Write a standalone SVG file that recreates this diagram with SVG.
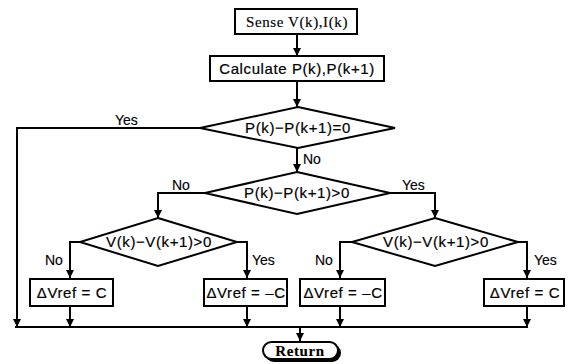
<svg xmlns="http://www.w3.org/2000/svg" width="569" height="364" viewBox="0 0 569 364">
<style>
.s{fill:#fff;stroke:#000;stroke-width:2}
.c{fill:none;stroke:#000;stroke-width:2}
.t{font-family:"Liberation Sans",Arial,sans-serif;font-size:15px;letter-spacing:0.6px;fill:#000;stroke:#000;stroke-width:0.2;text-anchor:middle}
.l{font-family:"Liberation Sans",Arial,sans-serif;font-size:14px;fill:#000;stroke:#000;stroke-width:0.15}
.sf{font-family:"Liberation Serif","Times New Roman",serif;font-size:15px;letter-spacing:0.6px;fill:#000;stroke:#000;stroke-width:0.15;text-anchor:middle}
</style>
<defs>
<marker id="a" viewBox="0 0 8 8" refX="8" refY="4" markerWidth="8" markerHeight="8" markerUnits="userSpaceOnUse" orient="auto">
<path d="M0,0 L8,4 L0,8 z" fill="#000"/>
</marker>
</defs>
<rect width="569" height="364" fill="#fff"/>
<g id="connectors">
<path class="c" d="M297,34 V56" marker-end="url(#a)"/>
<path class="c" d="M297,81 V107" marker-end="url(#a)"/>
<path class="c" d="M200,128 H17 V327" marker-end="url(#a)"/>
<path class="c" d="M297,148 V172" marker-end="url(#a)"/>
<path class="c" d="M205,193 H158 V218" marker-end="url(#a)"/>
<path class="c" d="M390,193 H435 V218" marker-end="url(#a)"/>
<path class="c" d="M80,242 H70 V278" marker-end="url(#a)"/>
<path class="c" d="M237,242 H247 V278" marker-end="url(#a)"/>
<path class="c" d="M352,242 H340 V278" marker-end="url(#a)"/>
<path class="c" d="M518,242 H527 V278" marker-end="url(#a)"/>
<path class="c" d="M70,306 V327" marker-end="url(#a)"/>
<path class="c" d="M247,306 V327" marker-end="url(#a)"/>
<path class="c" d="M340,306 V327" marker-end="url(#a)"/>
<path class="c" d="M527,306 V327" marker-end="url(#a)"/>
<path class="c" d="M15,327 H528"/>
<path class="c" d="M300,327 V341" marker-end="url(#a)"/>
<text class="l" x="115" y="125">Yes</text>
<text class="l" x="303" y="164">No</text>
<text class="l" x="172" y="190">No</text>
<text class="l" x="402" y="190">Yes</text>
<text class="l" x="45" y="265">No</text>
<text class="l" x="252" y="265">Yes</text>
<text class="l" x="315" y="265">No</text>
<text class="l" x="534" y="265">Yes</text>
</g>
<g id="sense">
<rect class="s" x="235" y="9" width="122" height="25"/>
<text class="sf" x="297" y="27">Sense V(k),I(k)</text>
</g>
<g id="calc">
<rect class="s" x="210" y="56" width="174" height="25"/>
<text class="t" x="297" y="74">Calculate P(k),P(k+1)</text>
</g>
<g id="d1">
<polygon class="s" points="298,107 395,128 298,148 200,128"/>
<text class="t" x="298" y="133">P(k)−P(k+1)=0</text>
</g>
<g id="d2">
<polygon class="s" points="297,172 390,193 297,214 205,193"/>
<text class="t" x="297" y="198">P(k)−P(k+1)&gt;0</text>
</g>
<g id="d3">
<polygon class="s" points="158,218 237,242 158,266 80,242"/>
<text class="t" x="159" y="247">V(k)−V(k+1)&gt;0</text>
</g>
<g id="d4">
<polygon class="s" points="435,218 518,242 435,266 352,242"/>
<text class="t" x="436" y="247">V(k)−V(k+1)&gt;0</text>
</g>
<g id="b1">
<rect class="s" x="30" y="279" width="83" height="27"/>
<text class="t" x="72" y="298">ΔVref = C</text>
</g>
<g id="b2">
<rect class="s" x="204" y="279" width="83" height="27"/>
<text class="t" x="246" y="298">ΔVref = –C</text>
</g>
<g id="b3">
<rect class="s" x="300" y="279" width="85" height="27"/>
<text class="t" x="343" y="298">ΔVref = –C</text>
</g>
<g id="b4">
<rect class="s" x="484" y="279" width="80" height="27"/>
<text class="t" x="525" y="298">ΔVref = C</text>
</g>
<g id="return">
<rect x="265" y="344" width="76" height="18" rx="9" fill="#000"/>
<rect class="s" x="263" y="342" width="75" height="17" rx="8.5" stroke-width="1.5"/>
<text class="sf" x="300" y="356" font-weight="bold" stroke-width="0">Return</text>
</g>
</svg>
